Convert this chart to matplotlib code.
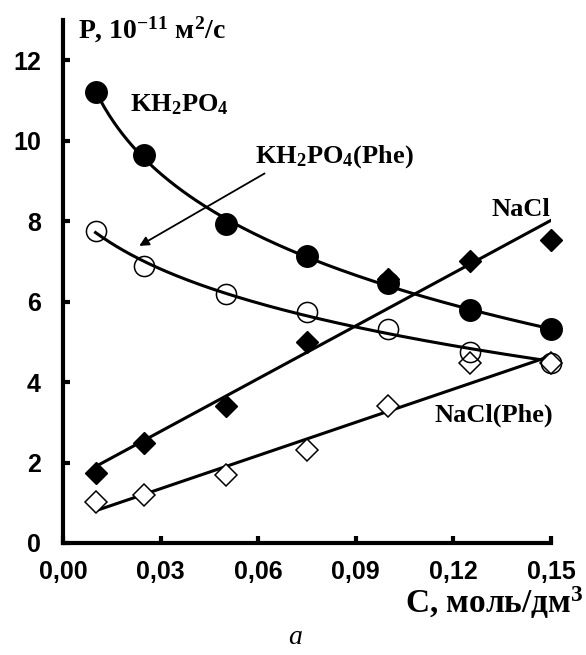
import numpy as np
import matplotlib.pyplot as plt

plt.rcParams['mathtext.fontset'] = 'custom'
plt.rcParams['mathtext.rm'] = 'Liberation Serif:bold'
plt.rcParams['mathtext.it'] = 'Liberation Serif:bold'
plt.rcParams['mathtext.bf'] = 'Liberation Serif:bold'

# концентрация, моль/дм3
conc = [0.01, 0.025, 0.05, 0.075, 0.1, 0.125, 0.15]

# P, 10^-11 м2/с
kh2po4 = [11.22, 9.64, 7.93, 7.13, 6.46, 5.79, 5.31]
kh2po4_phe = [7.76, 6.88, 6.20, 5.74, 5.32, 4.75, 4.47]
nacl = [1.74, 2.49, 3.40, 5.00, 6.55, 7.02, 7.52]
nacl_phe = [1.02, 1.19, 1.69, 2.30, 3.40, 4.47, 4.47]

# линейные тренды (концы линий)
trend_x = [0.01, 0.15]
nacl_trend = [1.9, 8.02]
nacl_phe_trend = [0.80, 4.65]

xticks = [0.0, 0.03, 0.06, 0.09, 0.12, 0.15]
xticklabels = ['0,00', '0,03', '0,06', '0,09', '0,12', '0,15']
yticks = [0, 2, 4, 6, 8, 10, 12]


def log_fit(x, y):
    # гладкая кривая: полином 2-й степени по ln(C)
    x = np.array(x)
    c = np.polyfit(np.log(x), y, 2)
    xs = np.linspace(x.min(), x.max(), 200)
    return xs, np.polyval(c, np.log(xs))


fig = plt.figure(figsize=(5.86, 6.55), dpi=100)
ax = fig.add_axes([0.1075, 0.171, 0.8328, 0.7985])

serif = 'Liberation Serif'
sans = 'Liberation Sans'
lw = 2.2

xs, ys = log_fit(conc, kh2po4)
ax.plot(xs, ys, color='black', lw=lw)
xs, ys = log_fit(conc, kh2po4_phe)
ax.plot(xs, ys, color='black', lw=lw)
ax.plot(trend_x, nacl_trend, color='black', lw=lw)
ax.plot(trend_x, nacl_phe_trend, color='black', lw=lw)

ax.plot(conc, nacl, 'D', ms=11.5, color='black', zorder=3, clip_on=False)
ax.plot(conc, nacl_phe, 'D', ms=11.5, mfc='white', mec='black', mew=1.1,
        zorder=3, clip_on=False)
ax.plot(conc, kh2po4_phe, 'o', ms=14.5, mfc='none', mec='black', mew=1.1,
        zorder=4, clip_on=False)
ax.plot(conc, kh2po4, 'o', ms=15.5, color='black', zorder=4, clip_on=False)

ax.set_xlim(0, 0.15)
ax.set_ylim(0, 13)
ax.set_xticks(xticks)
ax.set_xticklabels(xticklabels)
ax.set_yticks(yticks)

for s in ['top', 'right']:
    ax.spines[s].set_visible(False)
for s in ['left', 'bottom']:
    ax.spines[s].set_linewidth(3)
ax.tick_params(direction='in', length=5, width=3)
ax.tick_params(axis='x', pad=12)
ax.tick_params(axis='y', pad=16)
for lab in ax.get_xticklabels() + ax.get_yticklabels():
    lab.set_fontfamily(sans)
    lab.set_fontweight('bold')
    lab.set_fontsize(18)

tfont = dict(family=serif, weight='bold', fontsize=19)
ax.text(0.0205, 10.9, 'KH$_2$PO$_4$', ha='left', va='center', **tfont)
ax.text(0.0835, 9.6, 'KH$_2$PO$_4$(Phe)', ha='center', va='center', **tfont)
ax.text(0.1497, 8.3, 'NaCl', ha='right', va='center', **tfont)
ax.text(0.1506, 3.18, 'NaCl(Phe)', ha='right', va='center', **tfont)

ax.annotate('', xy=(0.0227, 7.35), xytext=(0.0627, 9.22),
            arrowprops=dict(arrowstyle='-|>', color='black', lw=1.3,
                            mutation_scale=14))

fig.text(78 / 586, 1 - 30 / 655, 'P, 10$^{-11}$ м$^2$/с', ha='left', va='center',
         family=serif, weight='bold', fontsize=20)
fig.text(584 / 586, 1 - 603 / 655, 'C, моль/дм$^3$', ha='right', va='center',
         family=serif, weight='bold', fontsize=24)
fig.text(295 / 586, 1 - 637 / 655, 'a', ha='center', va='center',
         family=serif, style='italic', fontsize=20)

fig.savefig('out.png', dpi=100)
